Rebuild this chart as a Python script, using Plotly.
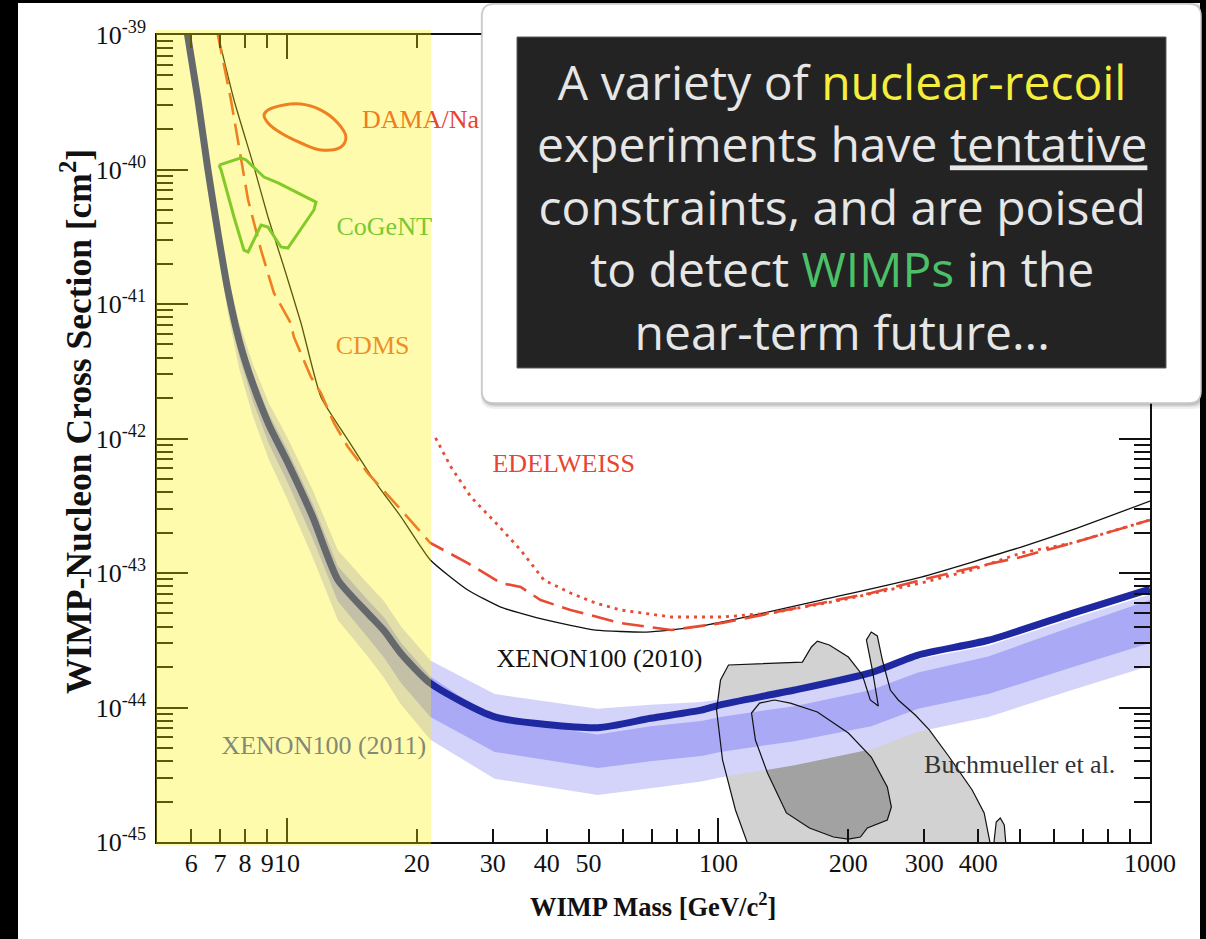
import numpy as np
import plotly.graph_objects as go

# ---------------- data ----------------
# WIMP mass in GeV/c^2, cross sections given as log10(sigma / cm^2)
xe2011_mass = [5.88, 6.22, 6.56, 6.92, 7.30, 7.75, 8.35, 9.09, 10.05, 11.5, 13.12, 15.4, 16.8,
               18.4, 21.5, 30.3, 52.5, 69.6, 91.3, 101, 150, 226, 290, 422, 660, 1000]
xe2011_log = [-38.99, -39.48, -40.00, -40.47, -40.90, -41.27, -41.60, -41.90, -42.18, -42.59,
              -43.05, -43.30, -43.43, -43.60, -43.82, -44.07, -44.15, -44.08, -44.02, -43.98,
              -43.87, -43.74, -43.61, -43.50, -43.30, -43.12]
xe2011_2s_hi = [-38.96, -39.43, -39.93, -40.38, -40.79, -41.14, -41.45, -41.74, -42.00, -42.39,
                -42.83, -43.08, -43.21, -43.40, -43.65, -43.90, -44.01, -43.98, -43.96, -43.94,
                -43.87, -43.76, -43.64, -43.54, -43.34, -43.16]
xe2011_1s_hi = [-38.975, -39.455, -39.965, -40.425, -40.85, -41.21, -41.53, -41.82, -42.09,
                -42.49, -42.95, -43.20, -43.33, -43.52, -43.77, -44.09, -44.20, -44.14, -44.10,
                -44.07, -43.99, -43.87, -43.74, -43.62, -43.40, -43.20]
xe2011_1s_lo = [-39.01, -39.52, -40.06, -40.55, -41.00, -41.39, -41.73, -42.04, -42.33, -42.75,
                -43.21, -43.48, -43.63, -43.82, -44.07, -44.33, -44.45, -44.40, -44.36, -44.33,
                -44.25, -44.14, -44.01, -43.90, -43.70, -43.52]
xe2011_2s_lo = [-39.03, -39.55, -40.10, -40.61, -41.07, -41.48, -41.84, -42.16, -42.46, -42.89,
                -43.35, -43.62, -43.78, -43.98, -44.24, -44.53, -44.65, -44.60, -44.55, -44.52,
                -44.43, -44.31, -44.18, -44.07, -43.87, -43.69]

xe2010_mass = [6.9, 7.54, 8.39, 9.04, 9.84, 10.78, 11.99, 13.85, 15.9, 18.4, 21.5, 26.25, 31.3,
               39.8, 51.9, 68.1, 88.9, 116, 173, 295, 503, 660, 1000]
xe2010_log = [-38.98, -39.483, -39.981, -40.353, -40.725, -41.141, -41.691, -42.011, -42.309,
              -42.584, -42.903, -43.126, -43.253, -43.349, -43.424, -43.439, -43.401, -43.327,
              -43.201, -43.03, -42.807, -42.68, -42.465]

cdms_mass = [6.9, 7.42, 8.13, 8.71, 9.33, 10.2, 10.38, 11.37, 11.99, 12.85, 13.85, 15.4, 18.4,
             21.5, 26.25, 31.3, 34.8, 38.7, 45.4, 59.3, 77.8, 102, 133, 173, 226, 295, 385,
             503, 660, 1000]
cdms_log = [-38.98, -39.483, -40.227, -40.599, -40.918, -41.141, -41.245, -41.543, -41.662,
            -41.885, -42.063, -42.257, -42.532, -42.777, -42.926, -43.074, -43.104, -43.201,
            -43.275, -43.372, -43.424, -43.372, -43.297, -43.223, -43.149, -43.052, -42.963,
            -42.881, -42.777, -42.606]

edel_mass = [22.1, 24.0, 26.7, 30.5, 34.8, 37.7, 39.4, 45.4, 51.9, 59.3, 77.8, 102, 133, 193,
             295, 385, 503, 660, 1000]
edel_log = [-41.996, -42.212, -42.435, -42.628, -42.829, -42.978, -43.052, -43.149, -43.223,
            -43.275, -43.327, -43.327, -43.297, -43.201, -43.074, -42.978, -42.851, -42.777,
            -42.606]

dama_mass = [9.04, 9.84, 10.78, 11.99, 13.12, 13.70, 13.34, 11.99, 10.78, 9.69, 9.04, 8.85, 9.04]
dama_log = [-39.558, -39.520, -39.513, -39.558, -39.654, -39.758, -39.833, -39.855, -39.803,
            -39.729, -39.654, -39.595, -39.558]

cogent_mass = [6.96, 7.83, 8.04, 8.85, 9.54, 11.68, 11.55, 10.05, 9.69, 9.04, 8.71, 8.13, 7.95,
               7.54, 7.04, 6.96]
cogent_log = [-39.967, -39.914, -39.929, -40.056, -40.100, -40.242, -40.301, -40.584, -40.576,
              -40.428, -40.413, -40.613, -40.599, -40.353, -40.004, -39.967]

buch_outer_mass = [118.0, 109.5, 102.2, 99.0, 101.1, 105.5, 156.5, 164.2, 169.5, 180.7, 200.0,
                   215.5, 224.8, 234.7, 227.3, 220.2, 226.0, 233.4, 239.8, 250.2, 261.0, 285.8,
                   308.0, 342.6, 387.2, 412.8, 428.6]
buch_outer_log = [-45.05, -44.762, -44.390, -44.019, -43.796, -43.684, -43.662, -43.550, -43.506,
                  -43.535, -43.625, -43.758, -43.944, -43.989, -43.721, -43.498, -43.439,
                  -43.468, -43.647, -43.870, -43.944, -44.056, -44.167, -44.368, -44.613,
                  -44.784, -45.05]
buch_bump_mass = [433.3, 440.2, 449.8, 459.5, 464.5]
buch_bump_log = [-45.05, -44.851, -44.822, -44.874, -45.05]
buch_inner_mass = [134.8, 146.8, 169.5, 200.0, 226.0, 246.2, 251.6, 246.2, 221.3, 213.3, 200.0,
                   184.7, 162.5, 143.7, 129.9, 121.8, 119.3, 124.5, 134.8]
buch_inner_log = [-43.944, -43.967, -44.033, -44.190, -44.368, -44.591, -44.740, -44.836,
                  -44.896, -44.963, -44.978, -44.963, -44.896, -44.784, -44.487, -44.242,
                  -44.041, -43.967, -43.944]

x_tick_vals = [6, 7, 8, 9, 10, 20, 30, 40, 50, 100, 200, 300, 400, 1000]
x_tick_text = ["6", "7", "8", "9", "10", "20", "30", "40", "50", "100", "200", "300", "400", "1000"]
x_minor_vals = [60, 70, 80, 90, 500, 600, 700, 800, 900]
x_decades = [10, 100, 1000]
y_decades = [-45, -44, -43, -42, -41, -40, -39]
y_tick_text = ["10<sup>-45</sup>", "10<sup>-44</sup>", "10<sup>-43</sup>", "10<sup>-42</sup>",
               "10<sup>-41</sup>", "10<sup>-40</sup>", "10<sup>-39</sup>"]

labels = [
    ("DAMA/Na", 20.4, -39.64, "#E8442E"),
    ("CoGeNT", 16.8, -40.435, "#3CB44C"),
    ("CDMS", 15.8, -41.32, "#E8603A"),
    ("EDELWEISS", 43.8, -42.204, "#E8442E"),
    ("XENON100 (2010)", 53.0, -43.654, "#111111"),
    ("XENON100 (2011)", 12.18, -44.294, "#4858B0"),
    ("Buchmueller et al.", 499, -44.442, "#333333"),
]

def sig(v):
    return np.power(10.0, np.asarray(v, dtype=float))

# ---------------- figure ----------------
W, H = 1206, 939
ML, MR, MT, MB = 157, 56, 35, 97
PW, PH = W - ML - MR, H - MT - MB

def px(xp):
    return (xp - ML) / PW

def py(yp):
    return (H - MB - yp) / PH

fig = go.Figure()

BLUE = "#1E28A0"
RED = "#E84A32"
GREEN = "#46B83C"

# Buchmueller regions (fills)
fig.add_trace(go.Scatter(x=buch_outer_mass, y=sig(buch_outer_log), mode="none", fill="toself",
                         fillcolor="#D2D2D2", hoverinfo="skip"))
fig.add_trace(go.Scatter(x=buch_bump_mass, y=sig(buch_bump_log), mode="none", fill="toself",
                         fillcolor="#D2D2D2", hoverinfo="skip"))
fig.add_trace(go.Scatter(x=buch_inner_mass, y=sig(buch_inner_log), mode="none", fill="toself",
                         fillcolor="#A2A2A2", hoverinfo="skip"))

# XENON100 (2011) bands
fig.add_trace(go.Scatter(x=xe2011_mass + xe2011_mass[::-1],
                         y=sig(xe2011_2s_lo + xe2011_2s_hi[::-1]),
                         mode="none", fill="toself", fillcolor="#D4D4FA", hoverinfo="skip"))
fig.add_trace(go.Scatter(x=xe2011_mass + xe2011_mass[::-1],
                         y=sig(xe2011_1s_lo + xe2011_1s_hi[::-1]),
                         mode="none", fill="toself", fillcolor="#A9A9F6", hoverinfo="skip"))
fig.add_trace(go.Scatter(x=xe2011_mass, y=sig(xe2011_log), mode="lines",
                         line=dict(color=BLUE, width=7, shape="spline", smoothing=0.6)))

# Buchmueller outlines
for xs, ys in [(buch_outer_mass, buch_outer_log), (buch_bump_mass, buch_bump_log),
               (buch_inner_mass, buch_inner_log)]:
    fig.add_trace(go.Scatter(x=xs, y=sig(ys), mode="lines",
                             line=dict(color="#111111", width=1.2)))

# XENON100 (2010)
fig.add_trace(go.Scatter(x=xe2010_mass, y=sig(xe2010_log), mode="lines",
                         line=dict(color="#111111", width=1.3, shape="spline", smoothing=0.5)))
# CDMS
fig.add_trace(go.Scatter(x=cdms_mass, y=sig(cdms_log), mode="lines",
                         line=dict(color=RED, width=2.6, dash="22px,9px")))
# EDELWEISS
fig.add_trace(go.Scatter(x=edel_mass, y=sig(edel_log), mode="lines",
                         line=dict(color=RED, width=2.8, dash="3px,5px")))
# DAMA/Na and CoGeNT
fig.add_trace(go.Scatter(x=dama_mass, y=sig(dama_log), mode="lines",
                         line=dict(color=RED, width=3, shape="spline", smoothing=1.0)))
fig.add_trace(go.Scatter(x=cogent_mass, y=sig(cogent_log), mode="lines",
                         line=dict(color=GREEN, width=3)))

# labels (as text traces so the yellow overlay tints them)
for txt, lx, ly, col in labels:
    fig.add_trace(go.Scatter(x=[lx], y=[10.0 ** ly], mode="text", text=[txt],
                             textposition="middle center",
                             textfont=dict(family="Liberation Serif", size=26, color=col)))

# dummy trace for decade-tick axis
fig.add_trace(go.Scatter(x=[], y=[], xaxis="x2", yaxis="y", mode="lines"))

shapes = []
# white panel behind everything
shapes.append(dict(type="rect", xref="paper", yref="paper", layer="below",
                   x0=px(18), x1=px(1200), y0=py(939), y1=py(3),
                   fillcolor="white", line=dict(width=0)))
# translucent yellow overlay
shapes.append(dict(type="rect", xref="paper", yref="paper", layer="above",
                   x0=px(156), x1=px(431), y0=py(846), y1=py(30),
                   fillcolor="rgba(255,242,0,0.32)", line=dict(width=0)))


def rounded(x0p, y0p, x1p, y1p, r):
    # rounded rectangle path in paper coords, given pixel corners (top-left, bottom-right)
    X0, X1 = px(x0p), px(x1p)
    Yt, Yb = py(y0p), py(y1p)
    rx, ry = r / PW, r / PH
    return (f"M {X0+rx},{Yt} L {X1-rx},{Yt} Q {X1},{Yt} {X1},{Yt-ry} "
            f"L {X1},{Yb+ry} Q {X1},{Yb} {X1-rx},{Yb} L {X0+rx},{Yb} "
            f"Q {X0},{Yb} {X0},{Yb+ry} L {X0},{Yt-ry} Q {X0},{Yt} {X0+rx},{Yt} Z")

# shadow of callout box
for off, a in [(5, 0.06), (3, 0.08), (1.5, 0.12)]:
    shapes.append(dict(type="path", xref="paper", yref="paper", layer="above",
                       path=rounded(482 - off * 0.3, 4 - off * 0.3, 1202 + off, 404 + off, 14),
                       fillcolor=f"rgba(0,0,0,{a})", line=dict(width=0)))
shapes.append(dict(type="path", xref="paper", yref="paper", layer="above",
                   path=rounded(482, 4, 1201, 403, 12),
                   fillcolor="white", line=dict(color="#C8C8C8", width=1.5)))
shapes.append(dict(type="rect", xref="paper", yref="paper", layer="above",
                   x0=px(517), x1=px(1166), y0=py(368), y1=py(37),
                   fillcolor="#232323", line=dict(color="#5A5A5A", width=1)))

annotations = [
    dict(xref="paper", yref="paper", x=px(842), y=py(206), xanchor="center", yanchor="middle",
         showarrow=False, align="center",
         text=("A variety of <span style='color:#F6EE3C'>nuclear-recoil</span><br>"
               "experiments have <u>tentative</u><br>"
               "constraints, and are poised<br>"
               "to detect <span style='color:#4CC068'>WIMPs</span> in the<br>"
               "near-term future..."),
         font=dict(family="Open Sans", size=48, color="#E6E6E6")),
    dict(xref="paper", yref="paper", x=px(653), y=py(905), xanchor="center", yanchor="middle",
         showarrow=False, text="<b>WIMP Mass [GeV/c<sup>2</sup>]</b>",
         font=dict(family="Liberation Serif", size=26.5, color="#111111")),
    dict(xref="paper", yref="paper", x=px(76), y=py(422), xanchor="center", yanchor="middle",
         showarrow=False, textangle=-90,
         text="<b>WIMP-Nucleon Cross Section [cm<sup>2</sup>]</b>",
         font=dict(family="Liberation Serif", size=35.5, color="#111111")),
]

axis_font = dict(family="Liberation Serif", size=26, color="#111111")

fig.update_layout(
    width=W, height=H,
    margin=dict(l=ML, r=MR, t=MT, b=MB, pad=0),
    paper_bgcolor="black", plot_bgcolor="white",
    showlegend=False,
    shapes=shapes, annotations=annotations,
    xaxis=dict(type="log", range=[np.log10(5.0), 3.0], tickmode="array",
               tickvals=x_tick_vals, ticktext=x_tick_text, tickangle=0, ticks="inside",
               ticklen=13, tickwidth=1.6, tickcolor="#111111", showline=True,
               linecolor="#111111", linewidth=1.6, mirror="ticks", showgrid=False,
               zeroline=False, tickfont=axis_font, ticklabelstandoff=-3,
               minor=dict(tickmode="array", tickvals=x_minor_vals, ticks="inside",
                          ticklen=13, tickwidth=1.6, tickcolor="#111111", showgrid=False)),
    xaxis2=dict(type="log", range=[np.log10(5.0), 3.0], overlaying="x", anchor="y",
                side="bottom", tickmode="array", tickvals=x_decades, ticks="inside",
                ticklen=24, tickwidth=1.6, tickcolor="#111111", showticklabels=False,
                mirror="ticks", showline=False, showgrid=False, zeroline=False),
    yaxis=dict(type="log", range=[-45, -39], tickmode="array",
               tickvals=[10.0 ** d for d in y_decades], ticktext=y_tick_text,
               ticks="inside", ticklen=31, tickwidth=1.8, tickcolor="#111111",
               showline=True, linecolor="#111111", linewidth=1.6, mirror="ticks",
               showgrid=False, zeroline=False, tickfont=axis_font, ticklabelstandoff=4,
               minor=dict(tickmode="array",
                          tickvals=[k * 10.0 ** d for d in y_decades[:-1] for k in range(2, 10)],
                          ticks="inside", ticklen=16, tickwidth=1.8, tickcolor="#111111",
                          showgrid=False)),
)

fig.write_html("out.html",
               config={"displayModeBar": False},
               post_script="document.body.style.margin='0px';document.body.style.padding='0px';"
                           "document.body.style.overflow='hidden';")
